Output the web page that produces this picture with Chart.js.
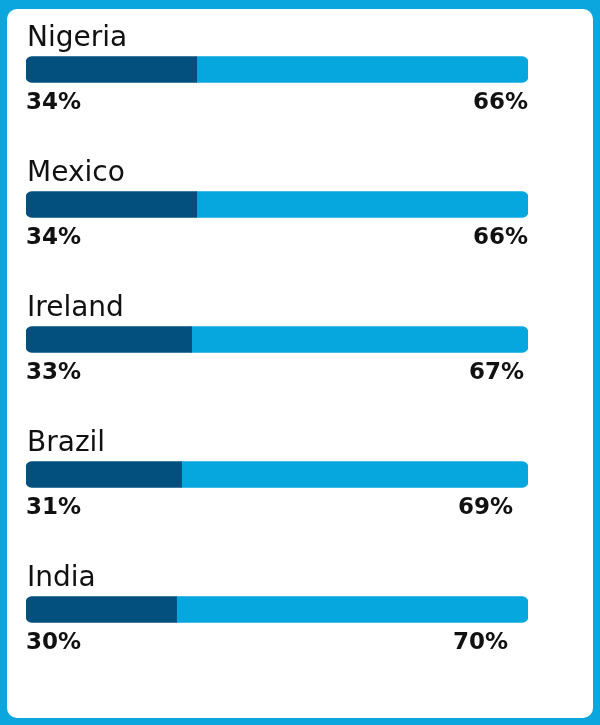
<!DOCTYPE html>
<html>
<head>
<meta charset="utf-8">
<script src="https://cdn.jsdelivr.net/npm/chart.js@4.4.0/dist/chart.umd.min.js"></script>
<style>
    html, body { margin: 0; padding: 0; }
    body { width: 600px; height: 725px; background: #0ba6de; position: relative; overflow: hidden; }
    .panel { position: absolute; left: 7px; top: 9px; width: 586px; height: 709px; background: #ffffff; border-radius: 10px; }
    .wrap { position: absolute; left: 0; top: 0; width: 600px; height: 725px; }
</style>
</head>
<body>
<div class="panel"></div>
<div class="wrap"><canvas id="chart"></canvas></div>
<script>
const countries = ["Nigeria", "Mexico", "Ireland", "Brazil", "India"];
const leftShare = [34, 34, 33, 31, 30];
const rightShare = [66, 66, 67, 69, 70];

const DARK = "#03507f";
const LIGHT = "#06a6de";

// right-hand labels sit a little inside the bar end in the original
const rightLabelInset = [0, 0, 4, 15, 20];

const labelPlugin = {
    id: "rowLabels",
    afterDatasetsDraw(chart) {
        const ctx = chart.ctx;
        const x = chart.scales.x;
        const meta = chart.getDatasetMeta(0);
        ctx.save();
        ctx.fillStyle = "#111111";
        meta.data.forEach((bar, i) => {
            const top = bar.y - bar.height / 2;
            const bottom = bar.y + bar.height / 2;

            ctx.font = "28px 'DejaVu Sans'";
            ctx.textAlign = "left";
            ctx.textBaseline = "alphabetic";
            ctx.fillText(countries[i], x.getPixelForValue(0) + 1, top - 11);

            ctx.font = "bold 23px 'DejaVu Sans'";
            ctx.fillText(leftShare[i] + "%", x.getPixelForValue(0), bottom + 26);
            ctx.textAlign = "right";
            ctx.fillText(rightShare[i] + "%", x.getPixelForValue(100) - rightLabelInset[i], bottom + 26);
        });
        ctx.restore();
    }
};

new Chart(document.getElementById("chart"), {
    type: "bar",
    data: {
        labels: countries,
        datasets: [
            {
                data: leftShare, backgroundColor: DARK, barThickness: 26, borderSkipped: false,
                borderRadius: { topLeft: 6, bottomLeft: 6, topRight: 0, bottomRight: 0 }
            },
            {
                data: rightShare, backgroundColor: LIGHT, barThickness: 26, borderSkipped: false,
                borderRadius: { topLeft: 0, bottomLeft: 0, topRight: 6, bottomRight: 6 }
            }
        ]
    },
    options: {
        indexAxis: "y",
        responsive: true,
        maintainAspectRatio: false,
        animation: false,
        layout: { padding: { left: 26, right: 72, top: 2, bottom: 48 } },
        plugins: { legend: { display: false }, tooltip: { enabled: false } },
        scales: {
            x: { stacked: true, min: 0, max: 100, display: false },
            y: { stacked: true, display: false }
        }
    },
    plugins: [labelPlugin]
});
</script>
</body>
</html>
